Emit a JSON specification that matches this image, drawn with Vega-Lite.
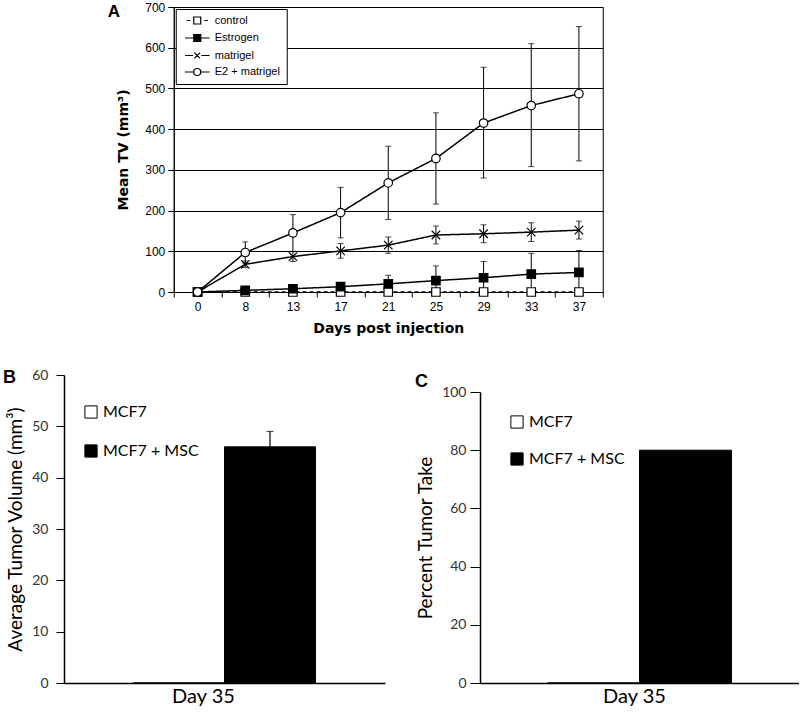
{
  "$schema": "https://vega.github.io/schema/vega-lite/v6.json",
  "padding": {"left": 3, "top": 0, "right": 0, "bottom": 0},
  "background": "white",
  "config": {"font": "Liberation Sans", "view": {"stroke": null}},
  "datasets": {
    "a": [
      {"day": 0, "series": "control", "mean": 0, "lo": 0, "hi": 0},
      {"day": 8, "series": "control", "mean": 0, "lo": 0, "hi": 0},
      {"day": 13, "series": "control", "mean": 0, "lo": 0, "hi": 0},
      {"day": 17, "series": "control", "mean": 0, "lo": 0, "hi": 0},
      {"day": 21, "series": "control", "mean": 0, "lo": 0, "hi": 0},
      {"day": 25, "series": "control", "mean": 0, "lo": 0, "hi": 0},
      {"day": 29, "series": "control", "mean": 0, "lo": 0, "hi": 0},
      {"day": 33, "series": "control", "mean": 0, "lo": 0, "hi": 0},
      {"day": 37, "series": "control", "mean": 0, "lo": 0, "hi": 0},
      {"day": 0, "series": "Estrogen", "mean": 0, "lo": 0, "hi": 0},
      {"day": 8, "series": "Estrogen", "mean": 4, "lo": 4, "hi": 4},
      {"day": 13, "series": "Estrogen", "mean": 8, "lo": 8, "hi": 8},
      {"day": 17, "series": "Estrogen", "mean": 13, "lo": 13, "hi": 13},
      {"day": 21, "series": "Estrogen", "mean": 20, "lo": 0, "hi": 41},
      {"day": 25, "series": "Estrogen", "mean": 28, "lo": 0, "hi": 64},
      {"day": 29, "series": "Estrogen", "mean": 35, "lo": 0, "hi": 75},
      {"day": 33, "series": "Estrogen", "mean": 44, "lo": 0, "hi": 95},
      {"day": 37, "series": "Estrogen", "mean": 48, "lo": 0, "hi": 102},
      {"day": 0, "series": "matrigel", "mean": 0, "lo": 0, "hi": 0},
      {"day": 8, "series": "matrigel", "mean": 68, "lo": 60, "hi": 76},
      {"day": 13, "series": "matrigel", "mean": 87, "lo": 75, "hi": 99},
      {"day": 17, "series": "matrigel", "mean": 101, "lo": 83, "hi": 119},
      {"day": 21, "series": "matrigel", "mean": 115, "lo": 95, "hi": 135},
      {"day": 25, "series": "matrigel", "mean": 140, "lo": 118, "hi": 162},
      {"day": 29, "series": "matrigel", "mean": 143, "lo": 121, "hi": 165},
      {"day": 33, "series": "matrigel", "mean": 147, "lo": 124, "hi": 170},
      {"day": 37, "series": "matrigel", "mean": 152, "lo": 130, "hi": 174},
      {"day": 0, "series": "E2 + matrigel", "mean": 0, "lo": 0, "hi": 0},
      {"day": 8, "series": "E2 + matrigel", "mean": 97, "lo": 71, "hi": 123},
      {"day": 13, "series": "E2 + matrigel", "mean": 145, "lo": 100, "hi": 190},
      {"day": 17, "series": "E2 + matrigel", "mean": 195, "lo": 133, "hi": 257},
      {"day": 21, "series": "E2 + matrigel", "mean": 268, "lo": 178, "hi": 358},
      {"day": 25, "series": "E2 + matrigel", "mean": 328, "lo": 216, "hi": 440},
      {"day": 29, "series": "E2 + matrigel", "mean": 415, "lo": 280, "hi": 552},
      {"day": 33, "series": "E2 + matrigel", "mean": 458, "lo": 308, "hi": 610},
      {"day": 37, "series": "E2 + matrigel", "mean": 487, "lo": 322, "hi": 652}
    ],
    "b": [
      {"day": "Day 35", "series": "MCF7", "value": 0, "hi": 0},
      {"day": "Day 35", "series": "MCF7 + MSC", "value": 46, "hi": 49}
    ],
    "c": [
      {"day": "Day 35", "series": "MCF7", "value": 0},
      {"day": "Day 35", "series": "MCF7 + MSC", "value": 80}
    ]
  },
  "spacing": 32,
  "center": true,
  "vconcat": [
    {
      "width": 429,
      "height": 285,
      "view": {"stroke": "black", "strokeWidth": 1},
      "title": {"text": "A", "anchor": "start", "frame": "group", "dx": -66, "offset": -20, "fontSize": 17, "fontWeight": "bold", "font": "Liberation Sans", "color": "black"},
      "data": {"name": "a"},
      "resolve": {"axis": {"y": "independent"}},
      "layer": [
        {
          "resolve": {"scale": {"shape": "independent", "fill": "independent", "stroke": "independent"}},
          "encoding": {
            "x": {"field": "day", "type": "ordinal", "scale": {"paddingInner": 0, "paddingOuter": 0},
              "axis": {"title": "Days post injection", "labelAngle": 0, "tickBand": "extent", "tickSize": 5, "tickColor": "black", "domainColor": "black", "labelFont": "Liberation Sans", "labelFontSize": 12, "labelColor": "black", "labelPadding": 4, "titleFont": "DejaVu Sans", "titleFontSize": 14, "titleFontWeight": "bold", "titleColor": "black", "titlePadding": 9}}
          },
          "layer": [
            {
              "mark": {"type": "line", "color": "black", "strokeWidth": 1.5},
              "encoding": {
                "y": {"field": "mean", "type": "quantitative", "scale": {"domain": [0, 700]},
                  "axis": {"values": [0, 100, 200, 300, 400, 500, 600, 700], "grid": true, "gridColor": "black", "gridOpacity": 1, "tickSize": 6, "tickColor": "black", "domainColor": "black", "labelFont": "Liberation Sans", "labelFontSize": 12, "labelColor": "black", "labelPadding": 3, "title": "Mean TV (mm³)", "titleFont": "DejaVu Sans", "titleFontSize": 14, "titleFontWeight": "bold", "titleColor": "black", "titlePadding": 14}},
                "detail": {"field": "series", "type": "nominal"},
                "strokeDash": {"field": "series", "type": "nominal", "scale": {"domain": ["control", "Estrogen", "matrigel", "E2 + matrigel"], "range": [[4, 3], [1, 0], [1, 0], [1, 0]]}, "legend": null}
              }
            },
            {
              "transform": [{"filter": "datum.hi > datum.mean"}],
              "mark": {"type": "rule", "color": "black", "strokeWidth": 1},
              "encoding": {
                "y": {"field": "lo", "type": "quantitative"},
                "y2": {"field": "hi"}
              }
            },
            {
              "transform": [{"filter": "datum.hi > datum.mean"}],
              "mark": {"type": "tick", "color": "black", "size": 6, "thickness": 1},
              "encoding": {"y": {"field": "hi", "type": "quantitative"}}
            },
            {
              "transform": [{"filter": "datum.lo > 0 && datum.lo < datum.mean"}],
              "mark": {"type": "tick", "color": "black", "size": 6, "thickness": 1},
              "encoding": {"y": {"field": "lo", "type": "quantitative"}}
            },
            {
              "mark": {"type": "point", "filled": true, "stroke": "black", "strokeWidth": 1.2, "opacity": 1, "size": 72},
              "encoding": {
                "y": {"field": "mean", "type": "quantitative"},
                "shape": {"field": "series", "type": "nominal", "scale": {"domain": ["control", "Estrogen", "matrigel", "E2 + matrigel"], "range": ["square", "square", "M-1,-1L1,1M-1,1L1,-1", "circle"]}, "legend": null},
                "fill": {"field": "series", "type": "nominal", "scale": {"domain": ["control", "Estrogen", "matrigel", "E2 + matrigel"], "range": ["white", "black", "white", "white"]}, "legend": null}
              }
            },
            {
              "transform": [{"filter": "datum.day < 0"}],
              "mark": {"type": "point", "filled": true, "strokeWidth": 1.2, "opacity": 1, "size": 49},
              "encoding": {
                "y": {"field": "mean", "type": "quantitative"},
                "shape": {"field": "series", "type": "nominal", "scale": {"domain": ["control", "Estrogen", "matrigel", "E2 + matrigel"], "range": ["M-3,0H-2M2,0H3M-1,-1H1V1H-1Z", "M-3.5,0H3.5M-1,-1H1V1H-1Z", "M-3.5,0H-1.2M1.2,0H3.5M-0.8,-0.8L0.8,0.8M-0.8,0.8L0.8,-0.8", "M-3.5,0H-1M1,0H3.5M-1,0A1,1,0,1,0,1,0A1,1,0,1,0,-1,0Z"]},
                  "legend": {"title": null, "orient": "none", "legendX": 2, "legendY": 2, "strokeColor": "black", "fillColor": "white", "padding": 6, "rowPadding": 4.5, "symbolOffset": 10, "labelOffset": 12, "labelFont": "Liberation Sans", "labelFontSize": 11, "labelColor": "black", "symbolStrokeWidth": 1.2, "symbolSize": 49}},
                "fill": {"field": "series", "type": "nominal", "scale": {"domain": ["control", "Estrogen", "matrigel", "E2 + matrigel"], "range": ["white", "black", "white", "white"]},
                  "legend": {"title": null, "orient": "none", "legendX": 2, "legendY": 2, "strokeColor": "black", "fillColor": "white", "padding": 6, "rowPadding": 4.5, "symbolOffset": 10, "labelOffset": 12, "labelFont": "Liberation Sans", "labelFontSize": 11, "labelColor": "black", "symbolStrokeWidth": 1.2, "symbolSize": 49}},
                "stroke": {"field": "series", "type": "nominal", "scale": {"domain": ["control", "Estrogen", "matrigel", "E2 + matrigel"], "range": ["black", "black", "black", "black"]},
                  "legend": {"title": null, "orient": "none", "legendX": 2, "legendY": 2, "strokeColor": "black", "fillColor": "white", "padding": 6, "rowPadding": 4.5, "symbolOffset": 10, "labelOffset": 12, "labelFont": "Liberation Sans", "labelFontSize": 11, "labelColor": "black", "symbolStrokeWidth": 1.2, "symbolSize": 49}}
              }
            }
          ]
        },
        {
          "mark": {"type": "rule", "opacity": 0},
          "encoding": {
            "y": {"datum": 0, "type": "quantitative",
              "axis": {"orient": "right", "labels": false, "ticks": false, "domain": false, "grid": false, "title": "I", "titleOpacity": 0, "titleFontSize": 10, "titlePadding": 76}}
          }
        }
      ]
    },
    {
      "hconcat": [
        {
          "width": 321,
          "height": 308,
          "title": {"text": "B", "anchor": "start", "frame": "group", "dx": -61, "offset": -19, "fontSize": 18, "fontWeight": "bold", "font": "Liberation Sans", "color": "black"},
          "data": {"name": "b"},
          "encoding": {
            "x": {"field": "day", "type": "nominal", "scale": {"paddingInner": 0, "paddingOuter": 0.382},
              "axis": {"title": null, "labelAngle": 0, "ticks": false, "domainColor": "black", "domainWidth": 1.5, "labelFont": "Lato", "labelFontSize": 20, "labelColor": "black", "labelPadding": 3, "labelOffset": -21}},
            "xOffset": {"field": "series", "type": "nominal", "scale": {"domain": ["MCF7", "MCF7 + MSC"], "paddingInner": 0, "paddingOuter": 0}}
          },
          "layer": [
            {
              "mark": {"type": "bar", "stroke": "black", "strokeWidth": 1},
              "encoding": {
                "y": {"field": "value", "type": "quantitative", "scale": {"domain": [0, 60]},
                  "axis": {"values": [0, 10, 20, 30, 40, 50, 60], "grid": false, "tickSize": 8, "tickColor": "black", "domainColor": "black", "domainWidth": 1.5, "labelFont": "Lato", "labelFontSize": 14, "labelColor": "#333333", "labelPadding": 8, "title": "Average Tumor Volume (mm³)", "titleFont": "Lato", "titleFontSize": 19, "titleFontWeight": "normal", "titleColor": "black", "titlePadding": 6}},
                "fill": {"field": "series", "type": "nominal", "scale": {"domain": ["MCF7", "MCF7 + MSC"], "range": ["white", "black"]},
                  "legend": {"title": null, "orient": "none", "legendX": 19, "legendY": 29, "padding": 0, "symbolType": "square", "symbolSize": 150, "symbolStrokeColor": "black", "symbolStrokeWidth": 1, "labelFont": "Lato", "labelFontSize": 16, "labelColor": "black", "rowPadding": 21, "labelOffset": 4}}
              }
            },
            {
              "transform": [{"filter": "datum.hi > datum.value"}],
              "mark": {"type": "rule", "color": "black", "strokeWidth": 1.2},
              "encoding": {"y": {"field": "value", "type": "quantitative"}, "y2": {"field": "hi"}}
            },
            {
              "transform": [{"filter": "datum.hi > datum.value"}],
              "mark": {"type": "tick", "color": "black", "size": 7, "thickness": 1.2},
              "encoding": {"y": {"field": "hi", "type": "quantitative"}}
            }
          ]
        },
        {
          "width": 319,
          "height": 308,
          "title": {"text": "C", "anchor": "start", "frame": "group", "dx": -65, "offset": -16, "fontSize": 18, "fontWeight": "bold", "font": "Liberation Sans", "color": "black"},
          "data": {"name": "c"},
          "mark": {"type": "bar", "stroke": "black", "strokeWidth": 1},
          "encoding": {
            "x": {"field": "day", "type": "nominal", "scale": {"paddingInner": 0, "paddingOuter": 0.367},
              "axis": {"title": null, "labelAngle": 0, "ticks": false, "domainColor": "black", "domainWidth": 1.5, "labelFont": "Lato", "labelFontSize": 20, "labelColor": "black", "labelPadding": 3, "labelOffset": -5}},
            "xOffset": {"field": "series", "type": "nominal", "scale": {"domain": ["MCF7", "MCF7 + MSC"], "paddingInner": 0, "paddingOuter": 0}},
            "y": {"field": "value", "type": "quantitative", "scale": {"domain": [0, 100], "range": [308, 17]},
              "axis": {"values": [0, 20, 40, 60, 80, 100], "grid": false, "tickSize": 10, "tickColor": "black", "domainColor": "black", "domainWidth": 1.5, "labelFont": "Lato", "labelFontSize": 14, "labelColor": "#333333", "labelPadding": 4, "title": "Percent Tumor Take", "titleFont": "Lato", "titleFontSize": 19, "titleFontWeight": "normal", "titleColor": "black", "titlePadding": 6}},
            "fill": {"field": "series", "type": "nominal", "scale": {"domain": ["MCF7", "MCF7 + MSC"], "range": ["white", "black"]},
              "legend": {"title": null, "orient": "none", "legendX": 29, "legendY": 39, "padding": 0, "symbolType": "square", "symbolSize": 150, "symbolStrokeColor": "black", "symbolStrokeWidth": 1, "labelFont": "Lato", "labelFontSize": 16, "labelColor": "black", "rowPadding": 19, "labelOffset": 4}}
          }
        }
      ],
      "spacing": 30,
      "resolve": {"scale": {"fill": "independent", "x": "independent", "y": "independent", "xOffset": "independent"}, "legend": {"fill": "independent"}}
    }
  ]
}
